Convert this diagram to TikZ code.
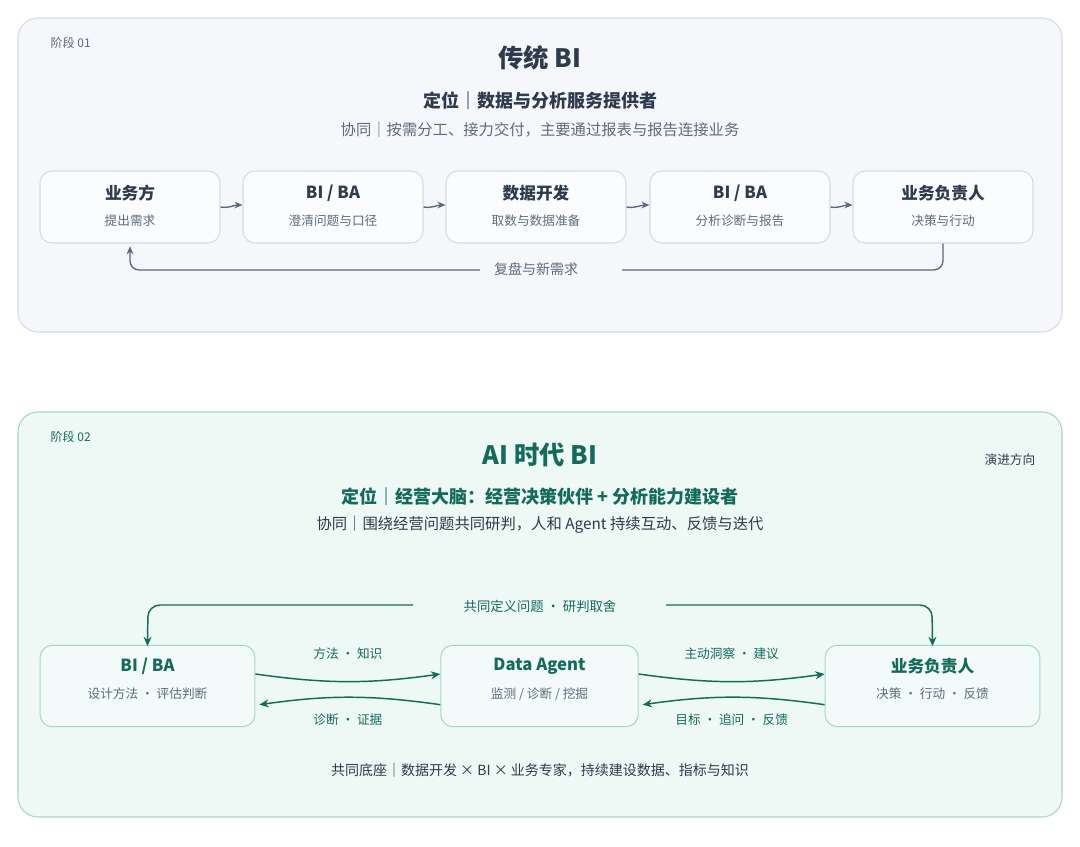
\documentclass[tikz,border=0pt]{standalone}
\usepackage{fontspec}
\setmainfont{Noto Sans CJK SC}
\usetikzlibrary{positioning,arrows.meta}
\definecolor{inkdark}{HTML}{2E3A4E}
\definecolor{inkgray}{HTML}{5F6B7D}
\definecolor{linegray}{HTML}{5B6680}
\definecolor{panelone}{HTML}{F6F7FB}
\definecolor{borderone}{HTML}{D6DAE3}
\definecolor{inkgreen}{HTML}{146B5C}
\definecolor{paneltwo}{HTML}{EEF8F4}
\definecolor{bordertwo}{HTML}{A8D8C4}
\definecolor{boxtwo}{HTML}{F2FBF9}
\tikzset{
  oldbox/.style={draw=borderone, fill=white!60!panelone, rounded corners=9pt, line width=0.8pt,
    minimum width=135pt, minimum height=54pt},
  newbox/.style={draw=bordertwo, fill=boxtwo, rounded corners=9pt, line width=0.8pt,
    minimum width=#1, minimum height=61pt},
  oldarr/.style={draw=linegray, line width=1pt, -{Stealth[length=6pt,width=5pt]}},
  newarr/.style={draw=inkgreen, line width=1.1pt, -{Stealth[length=7pt,width=6pt]}},
}
\begin{document}
\begin{tikzpicture}[x=0.75pt,y=-0.75pt]
\useasboundingbox[fill=white] (0,0) rectangle (1080,846);
% panels
\draw[fill=panelone, draw=borderone, line width=0.8pt, rounded corners=15pt] (18,18) rectangle (1062,332);
\draw[fill=paneltwo, draw=bordertwo, line width=0.8pt, rounded corners=15pt] (18,412) rectangle (1062,817);
% stage 01 headings
\node[anchor=west, text=inkgray, font=\fontsize{9}{11}\selectfont] (s1) at (46,43) {阶段 01};
\node[text=inkdark, font=\fontsize{19}{22}\selectfont\bfseries] (t1) at (540,58) {传统 BI};
\node[text=inkdark, font=\fontsize{13.5}{16}\selectfont\bfseries] (p1) at (540,101) {定位｜数据与分析服务提供者};
\node[text=inkgray, font=\fontsize{11.5}{14}\selectfont] (c1) at (540,130) {协同｜按需分工、接力交付，主要通过报表与报告连接业务};
% stage 01 boxes
\foreach \n/\x/\ti/\su in {a/130/业务方/提出需求, b/333/{BI / BA}/澄清问题与口径, c/536/数据开发/取数与数据准备, d/740/{BI / BA}/分析诊断与报告, e/943/业务负责人/决策与行动}{
  \node[oldbox] (\n) at (\x,207) {};
  \node[text=inkdark, font=\fontsize{12.5}{15}\selectfont\bfseries] at (\x,193) {\ti};
  \node[text=inkgray, font=\fontsize{9.5}{12}\selectfont] at (\x,221) {\su};
}
\foreach \u/\v in {a/b, b/c, c/d, d/e}
  \draw[oldarr] (\u.east) to[out=-10,in=180] ([yshift=1.5pt]\v.west);
\node[text=inkgray, font=\fontsize{10.5}{12}\selectfont] (fb) at (536,269) {复盘与新需求};
\draw[linegray, line width=1pt, rounded corners=7pt] (e.south) -- (943,270) -- (622,270);
\draw[oldarr, rounded corners=7pt] (480,270) -- (130,270) -- ([yshift=-2pt]a.south);
% stage 02 headings
\node[anchor=west, text=inkgreen, font=\fontsize{9}{11}\selectfont] (s2) at (46,437) {阶段 02};
\node[anchor=east, text=inkdark, font=\fontsize{9.5}{11}\selectfont] (dir) at (1040,460) {演进方向};
\node[text=inkgreen, font=\fontsize{19}{22}\selectfont\bfseries] (t2) at (540,455) {AI 时代 BI};
\node[text=inkgreen, font=\fontsize{13.5}{16}\selectfont\bfseries] (p2) at (540,497) {定位｜经营大脑：经营决策伙伴 + 分析能力建设者};
\node[text=inkdark, font=\fontsize{11.5}{14}\selectfont] (c2) at (540,525) {协同｜围绕经营问题共同研判，人和 Agent 持续互动、反馈与迭代};
% stage 02 boxes
\foreach \n/\x/\w/\ti/\su in {bi/147.5/161pt/{BI / BA}/设计方法 · 评估判断, ag/539.5/148pt/Data Agent/{监测 / 诊断 / 挖掘}, ow/932.5/161pt/业务负责人/决策 · 行动 · 反馈}{
  \node[newbox=\w] (\n) at (\x,686) {};
  \node[text=inkgreen, font=\fontsize{12.5}{15}\selectfont\bfseries] at (\x,666) {\ti};
  \node[text=inkgray, font=\fontsize{9.5}{12}\selectfont] at (\x,694) {\su};
}
\foreach \u/\v/\up/\dn in {bi/ag/方法 · 知识/诊断 · 证据, ag/ow/主动洞察 · 建议/目标 · 追问 · 反馈}{
  \draw[newarr] ([yshift=9pt]\u.east) to[bend right=8] ([yshift=9pt]\v.west);
  \draw[newarr] ([yshift=-14pt]\v.west) to[bend right=8] ([xshift=3pt,yshift=-14pt]\u.east);
  \path ([yshift=9pt]\u.east) -- ([yshift=9pt]\v.west) node[midway, yshift=15pt, text=inkgreen, font=\fontsize{9.5}{12}\selectfont] {\up};
  \path ([yshift=-14pt]\u.east) -- ([yshift=-14pt]\v.west) node[midway, yshift=-11pt, text=inkgreen, font=\fontsize{9.5}{12}\selectfont] {\dn};
}
\node[text=inkgreen, font=\fontsize{10}{12}\selectfont] (loop) at (540,606) {共同定义问题 · 研判取舍};
\draw[newarr, rounded corners=9pt] (413,605) -- (148,605) -- ([yshift=-1pt]bi.north);
\draw[newarr, rounded corners=9pt] (666,605) -- (932,605) -- ([yshift=-1pt]ow.north);
\node[text=inkdark, font=\fontsize{10.5}{13}\selectfont] (base) at (540,770) {共同底座｜数据开发 × BI × 业务专家，持续建设数据、指标与知识};
\end{tikzpicture}
\end{document}
